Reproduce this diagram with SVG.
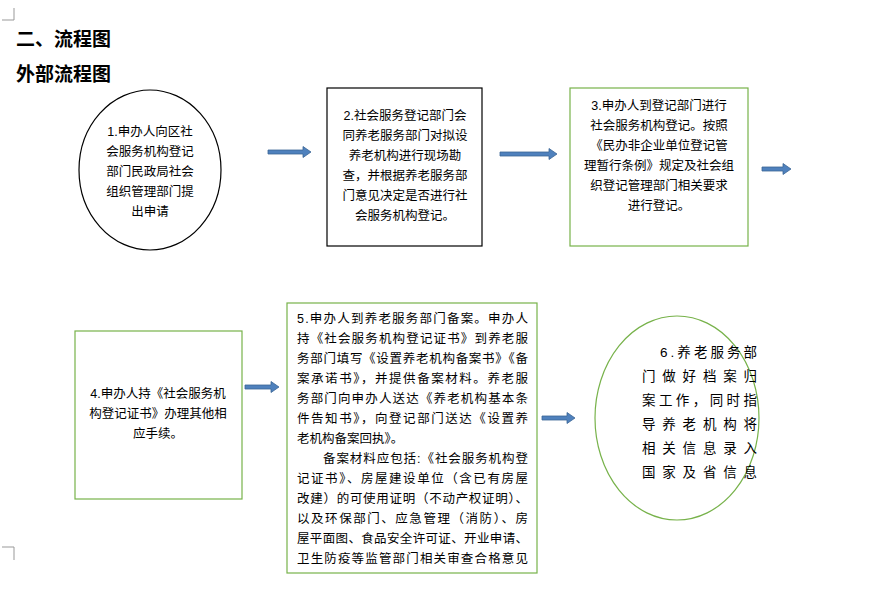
<svg xmlns="http://www.w3.org/2000/svg" width="884" height="607" viewBox="0 0 884 607">
<style>
text{font-family:"Liberation Sans","Noto Sans CJK SC",sans-serif;font-size:12.5px;fill:#000}
.c{text-anchor:middle}
.h{font-size:19px;font-weight:bold;font-family:"Liberation Serif","Noto Sans CJK SC",serif}
.g{fill:#fff;stroke:#77b24a;stroke-width:1.2}
.k{fill:#fff;stroke:#000;stroke-width:1.2}
.arr{fill:#4f81bd;stroke:#3a6594;stroke-width:0.8}
.b{font-size:13.5px}
</style>
<rect width="884" height="607" fill="#fff"/>
<path d="M14,20 V8 M2,20 H14 M2,547 H14 V560" stroke="#999" fill="none"/>
<text class="h" x="16" y="46">二、流程图</text>
<text class="h" x="16" y="81">外部流程图</text>
<g id="n1"><ellipse class="k" cx="150" cy="170" rx="71" ry="80"/>
<g class="c"><text x="150" y="136">1.申办人向区社</text><text x="150" y="156">会服务机构登记</text><text x="150" y="176">部门民政局社会</text><text x="150" y="196">组织管理部门提</text><text x="150" y="216">出申请</text></g></g>
<g id="n2"><rect class="k" x="327" y="88" width="155" height="158"/>
<g class="c"><text x="405" y="120">2.社会服务登记部门会</text><text x="405" y="140">同养老服务部门对拟设</text><text x="405" y="160">养老机构进行现场勘</text><text x="405" y="180">查，并根据养老服务部</text><text x="405" y="200">门意见决定是否进行社</text><text x="405" y="220">会服务机构登记。</text></g></g>
<g id="n3"><rect class="g" x="570" y="88" width="178" height="158"/>
<g class="c"><text x="659" y="110">3.申办人到登记部门进行</text><text x="659" y="130">社会服务机构登记。按照</text><text x="659" y="150">《民办非企业单位登记管</text><text x="659" y="170">理暂行条例》规定及社会组</text><text x="659" y="190">织登记管理部门相关要求</text><text x="659" y="210">进行登记。</text></g></g>
<g id="n4"><rect class="g" x="75" y="331" width="167" height="168"/>
<g class="c"><text x="158" y="398">4.申办人持《社会服务机</text><text x="158" y="418">构登记证书》办理其他相</text><text x="158" y="438">应手续。</text></g></g>
<g id="n5"><rect class="g" x="287" y="303" width="250" height="270"/>
<g lengthAdjust="spacing"><text x="297" y="323" textLength="231">5.申办人到养老服务部门备案。申办人</text><text x="297" y="343" textLength="231">持《社会服务机构登记证书》到养老服</text><text x="297" y="363" textLength="231">务部门填写《设置养老机构备案书》《备</text><text x="297" y="383" textLength="231">案承诺书》，并提供备案材料。养老服</text><text x="297" y="403" textLength="231">务部门向申办人送达《养老机构基本条</text><text x="297" y="423" textLength="231">件告知书》，向登记部门送达《设置养</text><text x="297" y="443">老机构备案回执》。</text><text x="323" y="463" textLength="205">备案材料应包括:《社会服务机构登</text><text x="297" y="483" textLength="231">记证书》、房屋建设单位（含已有房屋</text><text x="297" y="503" textLength="231">改建）的可使用证明（不动产权证明）、</text><text x="297" y="523" textLength="231">以及环保部门、应急管理（消防）、房</text><text x="297" y="543" textLength="231">屋平面图、食品安全许可证、开业申请、</text><text x="297" y="563" textLength="231">卫生防疫等监管部门相关审查合格意见</text></g></g>
<g id="n6"><ellipse class="g" cx="677" cy="418" rx="82" ry="102"/>
<g><text class="b" x="660" y="357" textLength="97">6.养老服务部</text><text class="b" x="642" y="381" textLength="115">门做好档案归</text><text class="b" x="642" y="405" textLength="115">案工作，同时指</text><text class="b" x="642" y="429" textLength="115">导养老机构将</text><text class="b" x="642" y="453" textLength="115">相关信息录入</text><text class="b" x="642" y="477" textLength="115">国家及省信息</text><text class="b" x="642" y="477" opacity="0"></text><text class="b" x="642" y="477" opacity="0"></text></g></g>
<g id="connectors">
<path class="arr" d="M268,150 H303 V146.5 L311,152 L303,157.5 V154 H268Z"/>
<path class="arr" d="M500,152 H549 V148.5 L557,154 L549,159.5 V156 H500Z"/>
<path class="arr" d="M762,167 H783 V163.5 L791,169 L783,174.5 V171 H762Z"/>
<path class="arr" d="M245,385 H271 V381.5 L279,387 L271,392.5 V389 H245Z"/>
<path class="arr" d="M542,416 H567 V412.5 L575,418 L567,423.5 V420 H542Z"/>
</g>
</svg>
